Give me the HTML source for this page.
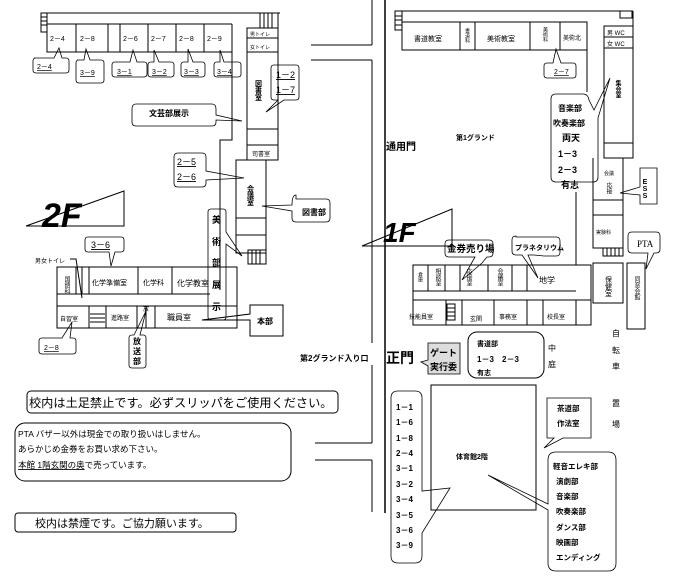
<!DOCTYPE html>
<html><head><meta charset="utf-8"><style>
html,body{margin:0;padding:0;background:#fff}
svg{display:block}
text{font-family:"Liberation Sans","Noto Sans CJK JP",sans-serif;fill:#000}
text[style*="tb"]{text-orientation:upright}
.s{font-size:7px}
.m{font-size:9px}
.b{font-size:9px;font-weight:bold}
</style></head><body>
<svg width="680" height="586" viewBox="0 0 680 586" xmlns="http://www.w3.org/2000/svg" fill="none" stroke="#000" stroke-width="1">
<!-- roads -->
<line x1="372" y1="0" x2="372" y2="45"/>
<line x1="311" y1="45" x2="372" y2="45"/>
<line x1="311" y1="60" x2="372" y2="60"/>
<line x1="372" y1="60" x2="372" y2="343"/>
<line x1="372" y1="365" x2="372" y2="443"/>
<line x1="315" y1="443" x2="372" y2="443"/>
<line x1="315" y1="460" x2="372" y2="460"/>
<line x1="372" y1="460" x2="372" y2="512"/>
<line x1="385" y1="0" x2="385" y2="513" stroke-width="1.5"/>

<!-- 2F top building -->
<rect x="41" y="13" width="6" height="19"/>
<line x1="41" y1="17" x2="47" y2="17"/><line x1="41" y1="21" x2="47" y2="21"/><line x1="41" y1="25" x2="47" y2="25"/>
<polyline points="47,13 280,13"/>
<polyline points="47,24 232,24"/>
<polyline points="47,24 47,52 232,52"/>
<line x1="76" y1="24" x2="76" y2="52"/><line x1="108" y1="24" x2="108" y2="52"/>
<line x1="120" y1="24" x2="120" y2="52"/><line x1="148" y1="24" x2="148" y2="52"/>
<line x1="176" y1="24" x2="176" y2="52"/><line x1="204" y1="24" x2="204" y2="52"/>
<polyline points="232,24 232,140 220,140 220,290"/>
<rect x="260" y="13" width="18" height="15"/>
<line x1="264" y1="13" x2="264" y2="28"/><line x1="268" y1="13" x2="268" y2="28"/><line x1="272" y1="13" x2="272" y2="28"/>
<rect x="247" y="28" width="31" height="132"/>
<line x1="247" y1="38" x2="278" y2="38"/><line x1="247" y1="52" x2="278" y2="52"/>
<line x1="247" y1="129" x2="278" y2="129"/><line x1="247" y1="145" x2="278" y2="145"/>
<rect x="236" y="160" width="30" height="93"/>
<line x1="236" y1="218" x2="266" y2="218"/><line x1="236" y1="235" x2="266" y2="235"/>
<rect x="248" y="250" width="18" height="14"/>
<line x1="252" y1="250" x2="252" y2="264"/><line x1="256" y1="250" x2="256" y2="264"/><line x1="260" y1="250" x2="260" y2="264"/>
<text class="s" stroke="none" x="50" y="41">2－4</text>
<text class="s" stroke="none" x="80" y="41">2－8</text>
<text class="s" stroke="none" x="123" y="41">2－6</text>
<text class="s" stroke="none" x="151" y="41">2－7</text>
<text class="s" stroke="none" x="179" y="41">2－8</text>
<text class="s" stroke="none" x="207" y="41">2－9</text>
<text class="s" stroke="none" x="250" y="36" style="font-size:5px">男トイレ</text>
<text class="s" stroke="none" x="250" y="49" style="font-size:5px">女トイレ</text>
<text class="s" stroke="none" x="258" y="80" style="writing-mode:tb;font-weight:bold">図書室</text>
<text class="s" stroke="none" x="252" y="156" style="font-size:6px">司書室</text>
<text class="s" stroke="none" x="250" y="185" style="writing-mode:tb;font-weight:bold">会議室</text>

<!-- 2F labels callouts top -->
<g stroke-width="0.8">
<path d="M34,58 h20 l5,-10 l3,10 h4 q3,0 3,3 v9 q0,3 -3,3 h-30 q-3,0 -3,-3 v-9 q0,-3 3,-3z"/>
<path d="M77,60 h7 l2,-11 l4,11 h11 q3,0 3,3 v17 q0,3 -3,3 h-22 q-3,0 -3,-3 v-17 q0,-3 3,-3z"/>
<path d="M115,62 h15 l3,-12 l4,12 h7 q3,0 3,3 v9 q0,3 -3,3 h-29 q-3,0 -3,-3 v-9 q0,-3 3,-3z"/>
<path d="M151,62 h3 l0,-12 l5,12 h12 q3,0 3,3 v9 q0,3 -3,3 h-20 q-3,0 -3,-3 v-9 q0,-3 3,-3z"/>
<path d="M184,62 h4 l0,-13 l5,13 h9 q3,0 3,3 v9 q0,3 -3,3 h-18 q-3,0 -3,-3 v-9 q0,-3 3,-3z"/>
<path d="M217,62 h3 l0,-12 l4,12 h14 q3,0 3,3 v9 q0,3 -3,3 h-21 q-3,0 -3,-3 v-9 q0,-3 3,-3z"/>
<path d="M274,65 h22 q3,0 3,3 v29 q0,3 -3,3 h-12 l-18,12 l12,-12 h-4 q-3,0 -3,-3 v-29 q0,-3 3,-3z"/>
<path d="M136,104 h76 q4,0 4,5 v6 l26,6 l-26,-1 v2 q0,4 -4,4 h-76 q-4,0 -4,-4 v-13 q0,-5 4,-5z"/>
<path d="M178,153 h24 q4,0 4,4 v14 l38,7 l-38,2 v3 q0,4 -4,4 h-24 q-4,0 -4,-4 v-26 q0,-4 4,-4z"/>
<path d="M296,199 h30 q4,0 4,4 v15 q0,4 -4,4 h-30 q-4,0 -4,-4 v-7 l-30,-5 l30,-1 q0,-10 4,-10z"/>
<path d="M88,237 h33 q3,0 3,3 v9 q0,3 -3,3 h-6 l-4,14 l-2,-14 h-21 q-3,0 -3,-3 v-9 q0,-3 3,-3z"/>
<path d="M211,209 h12 q3,0 3,3 v20 l16,24 l-16,-12 v73 q0,3 -3,3 h-12 q-3,0 -3,-3 v-105 q0,-3 3,-3z"/>
</g>
<text class="s" stroke="none" x="37" y="69" text-decoration="underline">2－4</text>
<text class="s" stroke="none" x="80" y="75" text-decoration="underline">3－9</text>
<text class="s" stroke="none" x="117" y="74" text-decoration="underline">3－1</text>
<text class="s" stroke="none" x="152" y="74" text-decoration="underline">3－2</text>
<text class="s" stroke="none" x="184" y="74" text-decoration="underline">3－3</text>
<text class="s" stroke="none" x="217" y="74" text-decoration="underline">3－4</text>
<text class="m" stroke="none" x="276" y="78" text-decoration="underline">1－2</text>
<text class="m" stroke="none" x="276" y="93" text-decoration="underline">1－7</text>
<text class="b" stroke="none" x="149" y="116" style="font-size:8px">文芸部展示</text>
<text class="m" stroke="none" x="177" y="165" text-decoration="underline">2－5</text>
<text class="m" stroke="none" x="177" y="180" text-decoration="underline">2－6</text>
<text class="b" stroke="none" x="302" y="215" style="font-size:8px">図書部</text>
<text class="m" stroke="none" x="91" y="248" text-decoration="underline">3－6</text>
<text class="b" stroke="none" x="212" y="223">美</text>
<text class="b" stroke="none" x="212" y="245">術</text>
<text class="b" stroke="none" x="212" y="266">部</text>
<text class="b" stroke="none" x="212" y="288">展</text>
<text class="b" stroke="none" x="212" y="310">示</text>

<!-- 2F sign -->
<polygon points="26,226 124,191 124,226" fill="none"/>
<text stroke="none" x="42" y="227" style="font-size:34px;font-weight:bold;font-style:italic">2F</text>

<!-- 2F lower building -->
<rect x="57" y="267" width="180" height="61"/>
<line x1="57" y1="294" x2="210" y2="294"/>
<line x1="89" y1="306" x2="237" y2="306"/>
<line x1="76" y1="267" x2="76" y2="294"/><line x1="82" y1="267" x2="82" y2="294"/><line x1="89" y1="267" x2="89" y2="294"/>
<line x1="138" y1="267" x2="138" y2="294"/><line x1="172" y1="267" x2="172" y2="294"/>
<line x1="57" y1="306" x2="89" y2="306"/><line x1="89" y1="306" x2="89" y2="328"/>
<line x1="106" y1="306" x2="106" y2="328"/><line x1="137" y1="306" x2="137" y2="328"/>
<line x1="146" y1="306" x2="146" y2="328"/><line x1="155" y1="306" x2="155" y2="328"/>
<line x1="90" y1="314" x2="105" y2="314"/><line x1="90" y1="318" x2="105" y2="318"/><line x1="90" y1="322" x2="105" y2="322"/>
<polyline points="70,259 76,259 82,298"/>
<text stroke="none" x="35" y="263" style="font-size:6px">男女トイレ</text>
<text stroke="none" x="66" y="276" style="font-size:6px;writing-mode:tb">国語科</text>
<text stroke="none" x="92" y="285" style="font-size:7px">化学準備室</text>
<text stroke="none" x="143" y="285" style="font-size:7px">化学科</text>
<text stroke="none" x="177" y="286" style="font-size:8px">化学教室</text>
<text stroke="none" x="60" y="321" style="font-size:6px">自習室</text>
<text stroke="none" x="111" y="320" style="font-size:6px">進路室</text>
<text stroke="none" x="143" y="311" style="font-size:6px">放</text>
<text stroke="none" x="167" y="320" style="font-size:8px">職員室</text>
<path d="M250,305 h33 v31 h-33 v-16 l-48,0 l48,-6z"/>
<text class="b" stroke="none" x="257" y="324" style="font-size:8px">本部</text>
<path d="M42,338 h20 l10,-16 l-2,16 h3 q3,0 3,3 v10 q0,3 -3,3 h-31 q-3,0 -3,-3 v-10 q0,-3 3,-3z" stroke-width="0.8"/>
<text class="s" stroke="none" x="44" y="350" text-decoration="underline">2－8</text>
<path d="M132,335 h2 l12,-24 l-6,24 h3 q3,0 3,3 v27 q0,3 -3,3 h-11 q-3,0 -3,-3 v-27 q0,-3 3,-3z" stroke-width="0.8"/>
<text class="b" stroke="none" x="133" y="344" style="font-size:8px">放</text>
<text class="b" stroke="none" x="133" y="354" style="font-size:8px">送</text>
<text class="b" stroke="none" x="133" y="364" style="font-size:8px">部</text>

<!-- notices -->
<rect x="27" y="391" width="311" height="22" rx="4"/>
<text stroke="none" x="29" y="407" style="font-size:12.2px">校内は土足禁止です。必ずスリッパをご使用ください。</text>
<rect x="15" y="423" width="276" height="58" rx="10"/>
<text stroke="none" x="18" y="437" style="font-size:8.5px">PTA バザー以外は現金での取り扱いはしません。</text>
<text stroke="none" x="18" y="452" style="font-size:8.5px">あらかじめ金券をお買い求め下さい。</text>
<text stroke="none" x="18" y="468" style="font-size:8.5px"><tspan text-decoration="underline">本館 1階玄関の奥</tspan>で売っています。</text>
<rect x="15" y="513" width="221" height="19" rx="3"/>
<text stroke="none" x="35" y="527" style="font-size:11px">校内は禁煙です。ご協力願います。</text>

<!-- 1F top building -->
<rect x="395" y="11" width="7" height="19"/>
<line x1="395" y1="16" x2="402" y2="16"/><line x1="395" y1="20" x2="402" y2="20"/><line x1="395" y1="25" x2="402" y2="25"/>
<line x1="402" y1="11" x2="633" y2="11"/>
<line x1="633" y1="11" x2="633" y2="26"/>
<rect x="620" y="11" width="12" height="7"/>
<rect x="402" y="22" width="185" height="28"/>
<line x1="460" y1="22" x2="460" y2="50"/><line x1="475" y1="22" x2="475" y2="50"/>
<line x1="530" y1="22" x2="530" y2="50"/><line x1="560" y1="22" x2="560" y2="50"/>
<line x1="587" y1="50" x2="587" y2="92"/>
<rect x="604" y="26" width="29" height="132"/>
<line x1="604" y1="37" x2="633" y2="37"/><line x1="604" y1="48" x2="633" y2="48"/>
<line x1="604" y1="143" x2="633" y2="143"/>
<polyline points="593,158 593,248 623,248 623,158"/>
<line x1="593" y1="200" x2="623" y2="200"/><line x1="593" y1="215" x2="623" y2="215"/>
<rect x="603" y="248" width="20" height="8"/>
<line x1="607" y1="248" x2="607" y2="256"/><line x1="611" y1="248" x2="611" y2="256"/><line x1="615" y1="248" x2="615" y2="256"/><line x1="619" y1="248" x2="619" y2="256"/>
<line x1="576" y1="192" x2="576" y2="265"/>
<text stroke="none" x="414" y="41" style="font-size:7px">書道教室</text>
<text stroke="none" x="467" y="28" style="font-size:5px;writing-mode:tb">書道科</text>
<text stroke="none" x="487" y="41" style="font-size:7px">美術教室</text>
<text stroke="none" x="545" y="27" style="font-size:5px;writing-mode:tb">美術科</text>
<text stroke="none" x="563" y="40" style="font-size:6px">美術北</text>
<text stroke="none" x="607" y="35" style="font-size:6px">男 WC</text>
<text stroke="none" x="607" y="46" style="font-size:6px">女 WC</text>
<text stroke="none" x="617" y="80" style="font-size:6px;writing-mode:tb;font-weight:bold">集会室</text>
<text stroke="none" x="604" y="175" style="font-size:5px">会議</text>
<text stroke="none" x="608" y="182" style="font-size:6px;writing-mode:tb">応接</text>
<text stroke="none" x="596" y="234" style="font-size:5px">実験科</text>
<path d="M547,63 h6 l3,-14 l5,14 h12 q3,0 3,3 v9 q0,3 -3,3 h-26 q-3,0 -3,-3 v-9 q0,-3 3,-3z" stroke-width="0.8"/>
<text class="s" stroke="none" x="554" y="74" text-decoration="underline">2－7</text>
<path d="M556,94 h27 q5,0 6,6 l5,10 l16,-32 l-12,40 v59 q0,5 -5,5 h-37 q-5,0 -5,-5 v-78 q0,-5 5,-5z" stroke-width="0.8"/>
<text class="b" stroke="none" x="558" y="111" style="font-size:8px">音楽部</text>
<text class="b" stroke="none" x="553" y="126" style="font-size:8px">吹奏楽部</text>
<text class="b" stroke="none" x="562" y="141">両天</text>
<text class="b" stroke="none" x="558" y="157">1－3</text>
<text class="b" stroke="none" x="558" y="173">2－3</text>
<text class="b" stroke="none" x="561" y="188">有志</text>
<path d="M640,168 h17 v36 h-17 v-9 l-20,-2 l20,-6z" stroke-width="0.8"/>
<text stroke="none" x="645" y="179" style="font-size:7px;writing-mode:tb;font-weight:bold">ESS</text>
<text class="b" stroke="none" x="456" y="140" style="font-size:7px">第1グランド</text>
<text class="b" stroke="none" x="386" y="150" style="font-size:10px">通用門</text>

<!-- 1F sign -->
<polygon points="362,246 452,209 452,246"/>
<text stroke="none" x="383" y="242" style="font-size:28px;font-weight:bold;font-style:italic">1F</text>

<!-- 1F bottom building -->
<rect x="413" y="265" width="178" height="60"/>
<line x1="413" y1="291" x2="576" y2="291"/><line x1="413" y1="300" x2="591" y2="300"/>
<line x1="428" y1="265" x2="428" y2="291"/><line x1="445" y1="265" x2="445" y2="291"/>
<line x1="460" y1="265" x2="460" y2="291"/><line x1="488" y1="265" x2="488" y2="291"/>
<line x1="512" y1="265" x2="512" y2="291"/><line x1="527" y1="265" x2="527" y2="291"/>
<line x1="446" y1="300" x2="446" y2="325"/><line x1="462" y1="300" x2="462" y2="325"/>
<line x1="494" y1="300" x2="494" y2="325"/><line x1="527" y1="300" x2="527" y2="325"/>
<line x1="543" y1="300" x2="543" y2="325"/><line x1="576" y1="300" x2="576" y2="325"/>
<rect x="447" y="304" width="8" height="16"/>
<line x1="447" y1="308" x2="455" y2="308"/><line x1="447" y1="312" x2="455" y2="312"/><line x1="447" y1="316" x2="455" y2="316"/>
<rect x="593" y="263" width="30" height="40"/>
<rect x="627" y="263" width="18" height="66"/>
<text stroke="none" x="420" y="272" style="font-size:5px;writing-mode:tb">倉庫</text>
<text stroke="none" x="437" y="268" style="font-size:6px;writing-mode:tb">相談室</text>
<text stroke="none" x="468" y="268" style="font-size:6px;writing-mode:tb">応接室</text>
<text stroke="none" x="499" y="268" style="font-size:6px;writing-mode:tb">会議室</text>
<text stroke="none" x="539" y="283" style="font-size:8px">地学</text>
<text stroke="none" x="608" y="276" style="font-size:7px;writing-mode:tb">保健室</text>
<text stroke="none" x="636" y="276" style="font-size:6px;writing-mode:tb">同窓会館</text>
<text stroke="none" x="409" y="319" style="font-size:6px">技能員室</text>
<text stroke="none" x="470" y="321" style="font-size:6px">玄関</text>
<text stroke="none" x="499" y="319" style="font-size:6px">事務室</text>
<text stroke="none" x="547" y="319" style="font-size:6px">校長室</text>
<path d="M449,240 h40 q4,0 4,4 v9 q0,4 -4,4 h-2 l-5,6 l-20,17 l13,-23 h-26 q-4,0 -4,-4 v-9 q0,-4 4,-4z" stroke-width="0.8"/>
<text class="b" stroke="none" x="447" y="252" style="font-size:9.5px">金券売り場</text>
<path d="M516,237 h40 q4,0 4,4 v11 q0,4 -4,4 h-12 l-10,-1 l-6,0 l10,23 l-16,-23 h-6 q-4,0 -4,-4 v-11 q0,-4 4,-4z" stroke-width="0.8"/>
<text stroke="none" x="515" y="250" style="font-size:7px;font-weight:bold">プラネタリウム</text>
<path d="M632,232 h24 q4,0 4,4 v13 q0,4 -4,4 h-2 l-8,16 l2,-16 h-16 q-4,0 -4,-4 v-13 q0,-4 4,-4z" stroke-width="0.8"/>
<text stroke="none" x="637" y="247" style="font-size:9px;font-family:'Liberation Serif',serif">PTA</text>

<text class="b" stroke="none" x="300" y="361" style="font-size:8px">第2グランド入り口</text>
<text stroke="none" x="386" y="363" style="font-size:14px;font-weight:bold">正門</text>
<path d="M428,343 h32 v31 h-32 v-8 l-7,-4 l7,-2z" fill="#ddd" stroke-width="0.8"/>
<text class="b" stroke="none" x="430" y="356">ゲート</text>
<text class="b" stroke="none" x="430" y="370">実行委</text>
<rect x="468" y="332" width="76" height="46" rx="9"/>
<text class="b" stroke="none" x="477" y="346" style="font-size:7px">書道部</text>
<text class="b" stroke="none" x="477" y="362" style="font-size:8px">1－3</text>
<text class="b" stroke="none" x="502" y="362" style="font-size:8px">2－3</text>
<text class="b" stroke="none" x="477" y="375" style="font-size:7px">有志</text>
<text stroke="none" x="548" y="351" style="font-size:8px">中</text>
<text stroke="none" x="548" y="367" style="font-size:8px">庭</text>
<text stroke="none" x="612" y="336" style="font-size:8px">自</text>
<text stroke="none" x="612" y="353" style="font-size:8px">転</text>
<text stroke="none" x="612" y="369" style="font-size:8px">車</text>
<text stroke="none" x="612" y="406" style="font-size:8px">置</text>
<text stroke="none" x="612" y="427" style="font-size:8px">場</text>

<!-- gym -->
<rect x="431" y="385" width="105" height="125"/>
<text class="b" stroke="none" x="456" y="459" style="font-size:7px">体育館2階</text>
<path d="M398,391 h17 q7,0 7,7 v93 l28,-3 l-28,45 v23 q0,7 -7,7 h-17 q-7,0 -7,-7 v-158 q0,-7 7,-7z" stroke-width="0.8"/>
<g class="b" stroke="none" style="font-size:8px">
<text x="396" y="410" stroke="none">1－1</text>
<text x="396" y="425" stroke="none">1－6</text>
<text x="396" y="441" stroke="none">1－8</text>
<text x="396" y="456" stroke="none">2－4</text>
<text x="396" y="471" stroke="none">3－1</text>
<text x="396" y="487" stroke="none">3－2</text>
<text x="396" y="502" stroke="none">3－4</text>
<text x="396" y="518" stroke="none">3－5</text>
<text x="396" y="533" stroke="none">3－6</text>
<text x="396" y="548" stroke="none">3－9</text>
</g>
<path d="M547,398 h44 v40 h-28 l-19,10 l10,-10 h-7z" stroke-width="0.8"/>
<text class="b" stroke="none" x="557" y="411" style="font-size:7.5px">茶道部</text>
<text class="b" stroke="none" x="557" y="426" style="font-size:7.5px">作法室</text>
<path d="M556,452 h52 q8,0 8,8 v103 q0,8 -8,8 h-52 q-8,0 -8,-8 v-53 l-60,-35 l60,29 v-44 q0,-8 8,-8z" stroke-width="0.8"/>
<g stroke="none" style="font-size:7.5px;font-weight:bold">
<text x="553" y="469" stroke="none">軽音エレキ部</text>
<text x="556" y="484" stroke="none">演劇部</text>
<text x="556" y="499" stroke="none">音楽部</text>
<text x="556" y="514" stroke="none">吹奏楽部</text>
<text x="556" y="530" stroke="none">ダンス部</text>
<text x="556" y="545" stroke="none">映画部</text>
<text x="556" y="560" stroke="none">エンディング</text>
</g>
</svg>
</body></html>
